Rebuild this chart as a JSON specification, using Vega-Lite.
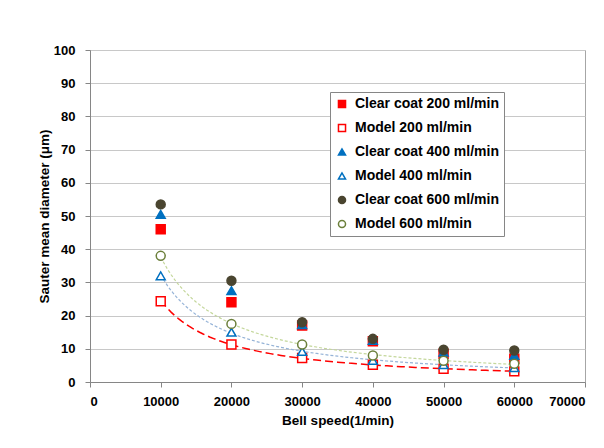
{
  "$schema": "https://vega.github.io/schema/vega-lite/v6.json",
  "width": 495,
  "height": 332,
  "autosize": "none",
  "padding": {"left": 90, "top": 50, "right": 19, "bottom": 66},
  "background": "white",
  "config": {
    "font": "Liberation Sans",
    "view": {"stroke": "#A6A6A6", "strokeWidth": 1},
    "axis": {
      "labelFont": "Liberation Sans",
      "labelFontWeight": "bold",
      "labelFontSize": 13,
      "labelColor": "#000000",
      "titleFont": "Liberation Sans",
      "titleFontWeight": "bold",
      "titleFontSize": 13.5,
      "titleColor": "#000000",
      "domainColor": "#868686",
      "tickColor": "#868686",
      "gridColor": "#C8C8C8",
      "tickSize": 5
    }
  },
  "data": {
    "values": [
      {"speed": 10000, "d": 46.0, "series": "Clear coat 200 ml/min"},
      {"speed": 20000, "d": 24.0, "series": "Clear coat 200 ml/min"},
      {"speed": 30000, "d": 17.0, "series": "Clear coat 200 ml/min"},
      {"speed": 40000, "d": 12.3, "series": "Clear coat 200 ml/min"},
      {"speed": 50000, "d": 8.5, "series": "Clear coat 200 ml/min"},
      {"speed": 60000, "d": 7.0, "series": "Clear coat 200 ml/min"},
      {"speed": 10000, "d": 24.3, "series": "Model 200 ml/min"},
      {"speed": 20000, "d": 11.3, "series": "Model 200 ml/min"},
      {"speed": 30000, "d": 7.2, "series": "Model 200 ml/min"},
      {"speed": 40000, "d": 5.2, "series": "Model 200 ml/min"},
      {"speed": 50000, "d": 4.0, "series": "Model 200 ml/min"},
      {"speed": 60000, "d": 3.2, "series": "Model 200 ml/min"},
      {"speed": 10000, "d": 50.5, "series": "Clear coat 400 ml/min"},
      {"speed": 20000, "d": 27.5, "series": "Clear coat 400 ml/min"},
      {"speed": 30000, "d": 17.3, "series": "Clear coat 400 ml/min"},
      {"speed": 40000, "d": 12.5, "series": "Clear coat 400 ml/min"},
      {"speed": 50000, "d": 9.0, "series": "Clear coat 400 ml/min"},
      {"speed": 60000, "d": 8.0, "series": "Clear coat 400 ml/min"},
      {"speed": 10000, "d": 32.0, "series": "Model 400 ml/min"},
      {"speed": 20000, "d": 15.0, "series": "Model 400 ml/min"},
      {"speed": 30000, "d": 9.2, "series": "Model 400 ml/min"},
      {"speed": 40000, "d": 6.5, "series": "Model 400 ml/min"},
      {"speed": 50000, "d": 5.2, "series": "Model 400 ml/min"},
      {"speed": 60000, "d": 4.3, "series": "Model 400 ml/min"},
      {"speed": 10000, "d": 53.5, "series": "Clear coat 600 ml/min"},
      {"speed": 20000, "d": 30.5, "series": "Clear coat 600 ml/min"},
      {"speed": 30000, "d": 18.0, "series": "Clear coat 600 ml/min"},
      {"speed": 40000, "d": 13.0, "series": "Clear coat 600 ml/min"},
      {"speed": 50000, "d": 9.7, "series": "Clear coat 600 ml/min"},
      {"speed": 60000, "d": 9.5, "series": "Clear coat 600 ml/min"},
      {"speed": 10000, "d": 38.0, "series": "Model 600 ml/min"},
      {"speed": 20000, "d": 17.5, "series": "Model 600 ml/min"},
      {"speed": 30000, "d": 11.3, "series": "Model 600 ml/min"},
      {"speed": 40000, "d": 8.0, "series": "Model 600 ml/min"},
      {"speed": 50000, "d": 6.4, "series": "Model 600 ml/min"},
      {"speed": 60000, "d": 5.5, "series": "Model 600 ml/min"}
    ]
  },
  "encoding": {
    "x": {
      "field": "speed", "type": "quantitative",
      "scale": {"domain": [0, 70000], "nice": false},
      "axis": {"values": [0, 10000, 20000, 30000, 40000, 50000, 60000, 70000], "format": "d", "grid": false, "title": "Bell speed(1/min)", "labelPadding": 8, "titlePadding": 5}
    },
    "y": {
      "field": "d", "type": "quantitative",
      "scale": {"domain": [0, 100], "nice": false},
      "axis": {"values": [0, 10, 20, 30, 40, 50, 60, 70, 80, 90, 100], "grid": true, "title": "Sauter mean diameter (μm)", "labelPadding": 10, "titlePadding": 2}
    }
  },
  "layer": [
    {
      "transform": [
        {"filter": "datum.series === 'Model 200 ml/min'"},
        {"regression": "d", "on": "speed", "method": "pow", "extent": [10000, 60000]}
      ],
      "mark": {"type": "line", "color": "#FF0000", "strokeWidth": 1.5, "strokeDash": [8, 4]},
      "encoding": {}
    },
    {
      "transform": [
        {"filter": "datum.series === 'Model 400 ml/min'"},
        {"regression": "d", "on": "speed", "method": "pow", "extent": [10000, 60000]}
      ],
      "mark": {"type": "line", "color": "#95B3D7", "strokeWidth": 1.2, "strokeDash": [3, 2]},
      "encoding": {}
    },
    {
      "transform": [
        {"filter": "datum.series === 'Model 600 ml/min'"},
        {"regression": "d", "on": "speed", "method": "pow", "extent": [10000, 60000]}
      ],
      "mark": {"type": "line", "color": "#C4D79B", "strokeWidth": 1.2, "strokeDash": [3, 2]},
      "encoding": {}
    },
    {
      "mark": {"type": "point", "size": 80, "strokeWidth": 1.5, "opacity": 1},
      "encoding": {
        "shape": {
          "field": "series", "type": "nominal", "title": null,
          "scale": {
            "domain": ["Clear coat 200 ml/min", "Model 200 ml/min", "Clear coat 400 ml/min", "Model 400 ml/min", "Clear coat 600 ml/min", "Model 600 ml/min"],
            "range": ["square", "square", "triangle-up", "triangle-up", "circle", "circle"]
          }
        },
        "fill": {
          "field": "series", "type": "nominal", "title": null,
          "scale": {
            "domain": ["Clear coat 200 ml/min", "Model 200 ml/min", "Clear coat 400 ml/min", "Model 400 ml/min", "Clear coat 600 ml/min", "Model 600 ml/min"],
            "range": ["#FF0000", "#FFFFFF", "#0070C0", "#FFFFFF", "#4A4530", "#FFFFFF"]
          }
        },
        "stroke": {
          "field": "series", "type": "nominal", "title": null,
          "scale": {
            "domain": ["Clear coat 200 ml/min", "Model 200 ml/min", "Clear coat 400 ml/min", "Model 400 ml/min", "Clear coat 600 ml/min", "Model 600 ml/min"],
            "range": ["#FF0000", "#FF0000", "#0070C0", "#0070C0", "#4A4530", "#6B7F3A"]
          },
          "legend": {
            "orient": "none",
            "legendX": 240,
            "legendY": 42,
            "fillColor": "white",
            "strokeColor": "#868686",
            "padding": 5,
            "rowPadding": 10,
            "symbolSize": 50,
            "symbolStrokeWidth": 1.5,
            "labelFont": "Liberation Sans",
            "labelFontWeight": "bold",
            "labelFontSize": 14,
            "labelColor": "#000000",
            "labelOffset": 6
          }
        }
      }
    }
  ]
}
